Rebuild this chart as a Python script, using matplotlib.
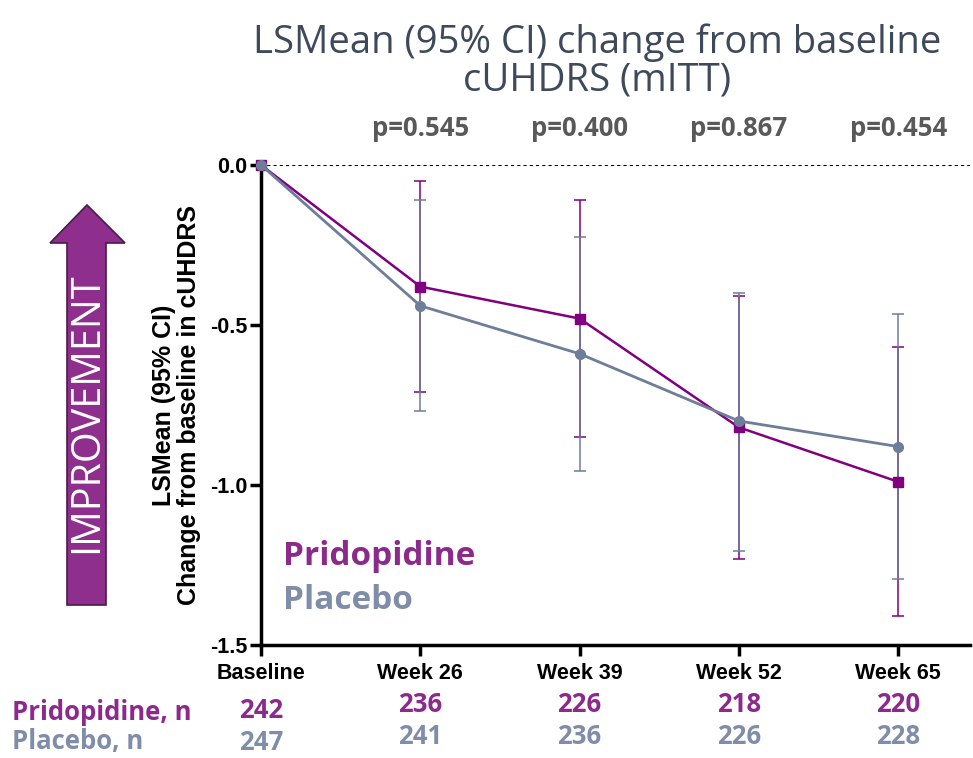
import numpy as np
import matplotlib.pyplot as plt
from matplotlib.patches import Polygon

# Visits and LSMean change from baseline with 95% CI bounds
visits = ["Baseline", "Week 26", "Week 39", "Week 52", "Week 65"]
prido_mean = [0.0, -0.38, -0.48, -0.82, -0.99]
prido_lo = [0.0, -0.71, -0.85, -1.23, -1.41]
prido_hi = [0.0, -0.05, -0.11, -0.41, -0.57]
placebo_mean = [0.0, -0.44, -0.59, -0.80, -0.88]
placebo_lo = [0.0, -0.77, -0.955, -1.205, -1.295]
placebo_hi = [0.0, -0.11, -0.225, -0.40, -0.465]
p_values = ["p=0.545", "p=0.400", "p=0.867", "p=0.454"]
prido_n = [242, 236, 226, 218, 220]
placebo_n = [247, 241, 236, 226, 228]

PURPLE = "#800080"
GREY = "#6E7D98"
PURPLE_TXT = "#8B2A8B"
GREY_TXT = "#7F8DA8"

W, H = 973, 758
fig = plt.figure(figsize=(W / 100, H / 100), dpi=100)
ax = fig.add_axes([261 / W, 1 - 645 / H, (970 - 261) / W, (645 - 165) / H])

x = np.arange(len(visits))

def err(mean, lo, hi):
    m = np.array(mean)
    return [m - np.array(lo), np.array(hi) - m]

ax.errorbar(x[1:], prido_mean[1:], yerr=[e[1:] for e in err(prido_mean, prido_lo, prido_hi)],
            fmt="none", ecolor=PURPLE, elinewidth=1.1, capsize=4, capthick=1.1, zorder=2)
ax.errorbar(x[1:], placebo_mean[1:], yerr=[e[1:] for e in err(placebo_mean, placebo_lo, placebo_hi)],
            fmt="none", ecolor=GREY, elinewidth=1.1, capsize=4, capthick=1.1, zorder=2)
ax.plot(x, prido_mean, color=PURPLE, lw=1.8, marker="s", ms=7, zorder=4, clip_on=False)
ax.plot(x, placebo_mean, color=GREY, lw=2.0, marker="o", ms=7, zorder=5, clip_on=False)

ax.axhline(0, color="black", lw=1.5, ls=(0, (1.5, 1.5)), zorder=1)

ax.set_xlim(0, 4.45)
ax.set_ylim(-1.5, 0.0)
ax.set_yticks([0.0, -0.5, -1.0, -1.5])
ax.set_yticklabels(["0.0", "-0.5", "-1.0", "-1.5"])
ax.set_xticks(x)
ax.set_xticklabels(visits)
for s in ["top", "right"]:
    ax.spines[s].set_visible(False)
for s in ["left", "bottom"]:
    ax.spines[s].set_linewidth(2.5)
ax.tick_params(axis="both", width=2.5, length=8, direction="out")
ax.tick_params(axis="y", pad=2)
ax.tick_params(axis="x", pad=5)
for lab in ax.get_xticklabels() + ax.get_yticklabels():
    lab.set_fontfamily("Liberation Sans")
    lab.set_fontweight("bold")
    lab.set_fontsize(15.5)

ax.set_ylabel("LSMean (95% CI)\nChange from baseline in cUHDRS", fontsize=18,
              fontweight="bold", family="Liberation Sans", labelpad=6, linespacing=1.05)

# p-values above each post-baseline visit
for xi, p in zip(x[1:], p_values):
    ax.text(xi, 0.115, p, ha="center", va="center", fontsize=18.5, fontweight="bold",
            color="#595959", family="Open Sans")

# series labels inside the plot
ax.text(0.14, -1.225, "Pridopidine", color=PURPLE_TXT, fontsize=24, fontweight="bold",
        family="Open Sans", va="center")
ax.text(0.14, -1.36, "Placebo", color=GREY_TXT, fontsize=24, fontweight="bold",
        family="Open Sans", va="center")

fig.text(597 / W, 1 - 43 / H, "LSMean (95% CI) change from baseline",
         ha="center", va="center", fontsize=27.5, color="#3E4A5B", family="Open Sans")
fig.text(597 / W, 1 - 80 / H, "cUHDRS (mITT)",
         ha="center", va="center", fontsize=27.5, color="#3E4A5B", family="Open Sans")

# n at risk table under the axis
fig.text(12 / W, 1 - 712 / H, "Pridopidine, n", color=PURPLE_TXT, fontsize=18.5,
         fontweight="bold", family="Open Sans", va="center")
fig.text(12 / W, 1 - 742 / H, "Placebo, n", color=GREY_TXT, fontsize=18.5,
         fontweight="bold", family="Open Sans", va="center")
for i in range(len(visits)):
    xf = ax.transData.transform((x[i], 0))[0] / W
    y1, y2 = (711, 742) if i == 0 else (704, 737)
    fig.text(xf, 1 - y1 / H, str(prido_n[i]), color=PURPLE_TXT, fontsize=18.5,
             fontweight="bold", family="Open Sans", ha="center", va="center")
    fig.text(xf, 1 - y2 / H, str(placebo_n[i]), color=GREY_TXT, fontsize=18.5,
             fontweight="bold", family="Open Sans", ha="center", va="center")

# IMPROVEMENT arrow on the left
pts = [(87, 205), (125, 243), (106, 243), (106, 605), (67, 605), (67, 243), (50, 243)]
arrow = Polygon([(px / W, 1 - py / H) for px, py in pts], closed=True,
                transform=fig.transFigure, facecolor="#8E2F8E", edgecolor="#4A1A4A", lw=1.2)
fig.add_artist(arrow)
fig.text(87 / W, 1 - 413 / H, "IMPROVEMENT", rotation=90, color="white", fontsize=28.5,
         family="Open Sans", ha="center", va="center")

fig.savefig("out.png", dpi=100)
